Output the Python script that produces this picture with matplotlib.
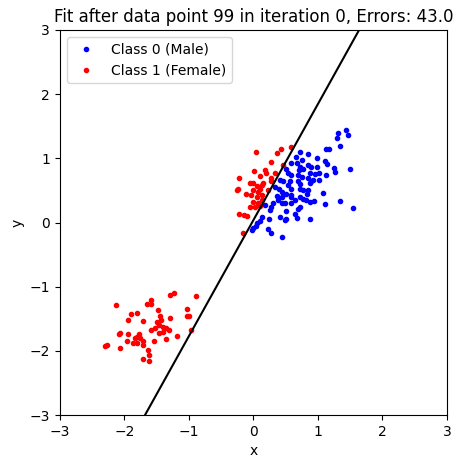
import matplotlib
matplotlib.use("Agg")
import matplotlib.pyplot as plt

# Class 0 (Male) points
male_x = [1.44, 1.46, 1.31, 1.29, 1.35, 1.12, 1.17, 0.72, 0.85, 0.66, 0.75, 0.99, 1.11, 1.14,
          0.59, 0.67, 0.85, 0.90, 0.99, 0.51, 0.72, 0.71, 0.77, 1.25, 1.26, 1.50, 0.88, 0.95,
          1.02, 0.54, 0.59, 0.69, 0.75, 1.12, 0.85, 0.92, 1.02, 0.41, 0.46, 0.57, 0.69, 0.73,
          0.88, 0.90, 0.33, 0.40, 0.54, 0.58, 0.72, 0.77, 0.44, 0.51, 0.59, 0.85, 0.83, 1.08,
          0.36, 0.44, 0.38, 0.59, 0.64, 0.72, 0.77, 0.82, 0.88, 0.94, 0.31, 0.44, 0.49, 0.59,
          1.34, 1.11, 0.18, 0.27, 0.72, 0.69, 1.55, 0.26, 0.51, 0.64, 0.14, 0.41, 0.51, 0.49,
          0.67, 0.88, 0.25, 0.10, 0.06, 0.04, 0.27, 0.44, 0.00, -0.02, 0.22]
male_y = [1.44, 1.36, 1.39, 1.31, 1.19, 1.14, 1.14, 1.10, 1.07, 1.02, 0.98, 1.00, 0.96, 0.91,
          0.92, 0.92, 0.90, 0.87, 0.87, 0.83, 0.87, 0.82, 0.83, 0.85, 0.79, 0.83, 0.77, 0.76,
          0.77, 0.77, 0.74, 0.74, 0.71, 0.74, 0.70, 0.67, 0.67, 0.67, 0.64, 0.65, 0.64, 0.60,
          0.62, 0.64, 0.56, 0.53, 0.58, 0.53, 0.53, 0.51, 0.48, 0.45, 0.43, 0.51, 0.45, 0.46,
          0.41, 0.39, 0.35, 0.40, 0.35, 0.40, 0.36, 0.35, 0.32, 0.34, 0.31, 0.31, 0.30, 0.30,
          0.33, 0.29, 0.27, 0.24, 0.24, 0.21, 0.22, 0.19, 0.18, 0.13, 0.09, 0.08, 0.05, 0.04,
          0.07, 0.05, 0.05, 0.03, -0.01, -0.05, -0.17, -0.23, -0.08, -0.12, -0.10]

# Class 1 (Female) points
female_x = [-2.13, -1.59, -1.65, -1.58, -1.29, -1.23, -0.89, -1.89, -1.80, -1.48, -1.03, -1.03,
            -1.00, -1.94, -1.71, -1.45, -1.29, -1.50, -1.43, -1.47, -1.40, -1.36, -1.52, -1.30,
            -1.58, -1.47, -1.40, -0.96, -2.08, -2.06, -1.94, -1.77, -1.81, -1.76, -1.84, -1.18,
            -1.96, -1.86, -1.81, -1.71, -1.71, -1.54, -1.36, -2.30, -2.27, -2.06, -1.63, -1.62,
            -1.71, -1.62,
            0.59, 0.43, 0.37, 0.04, 0.28, 0.46, 0.01, 0.18, 0.20, 0.34, -0.22, 0.10, 0.28, 0.27,
            -0.05, 0.00, 0.15, 0.13, 0.05, -0.24, -0.25, 0.00, 0.07, 0.10, 0.23, -0.12, -0.03,
            0.05, 0.14, 0.14, 0.00, 0.07, -0.05, 0.02, 0.10, -0.22, -0.15, -0.10, -0.16]
female_y = [-1.28, -1.20, -1.27, -1.27, -1.13, -1.10, -1.14, -1.43, -1.41, -1.36, -1.34, -1.46,
            -1.46, -1.52, -1.54, -1.46, -1.49, -1.55, -1.52, -1.60, -1.62, -1.65, -1.65, -1.67,
            -1.67, -1.72, -1.70, -1.67, -1.73, -1.72, -1.73, -1.74, -1.78, -1.80, -1.80, -1.77,
            -1.84, -1.87, -1.88, -1.84, -1.91, -1.85, -1.82, -1.92, -1.91, -1.96, -1.98, -2.06,
            -2.13, -2.16,
            1.17, 1.14, 1.08, 1.10, 0.95, 0.90, 0.81, 0.82, 0.77, 0.77, 0.70, 0.72, 0.70, 0.65,
            0.62, 0.61, 0.62, 0.58, 0.57, 0.52, 0.51, 0.50, 0.48, 0.52, 0.51, 0.44, 0.43,
            0.40, 0.43, 0.35, 0.32, 0.31, 0.24, 0.24, 0.25, 0.13, 0.12, 0.10, -0.16]

# decision boundary end points
line_x = [-1.68, 1.64]
line_y = [-3.0, 3.0]

fig = plt.figure(figsize=(4.64, 4.68), dpi=100)
ax = fig.add_axes([0.129, 0.113, 0.834, 0.823])

ax.plot(male_x, male_y, 'b.', label='Class 0 (Male)')
ax.plot(female_x, female_y, 'r.', label='Class 1 (Female)')
ax.plot(line_x, line_y, 'k-')

ax.set_xlim(-3, 3)
ax.set_ylim(-3, 3)
ax.set_xlabel("x")
ax.set_ylabel("y")
ax.set_title("Fit after data point 99 in iteration 0, Errors: 43.0")
ax.legend(loc='upper left')

fig.savefig("out.png", dpi=100)
